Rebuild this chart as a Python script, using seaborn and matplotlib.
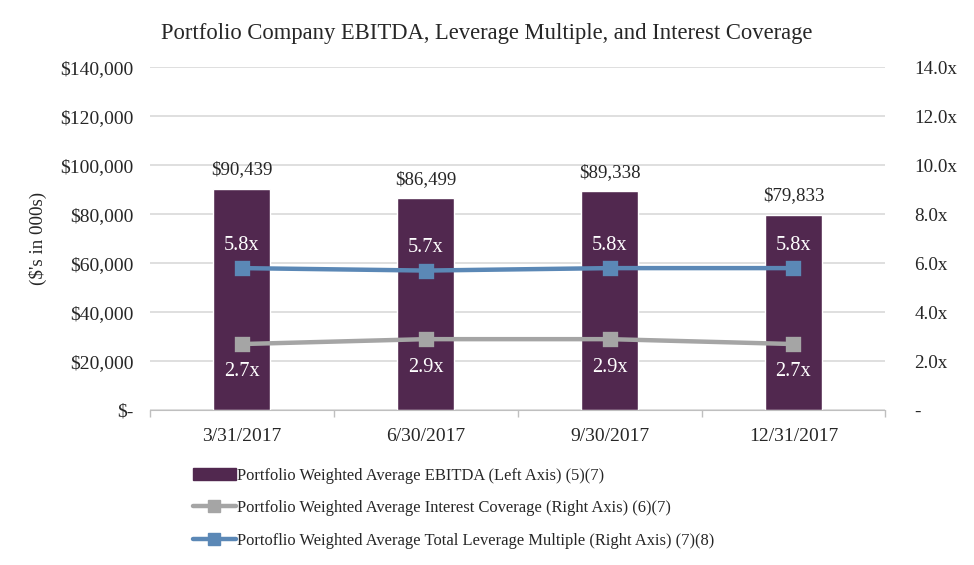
import pandas as pd
import matplotlib
matplotlib.use("Agg")
import matplotlib.pyplot as plt
import seaborn as sns
from matplotlib.lines import Line2D
from matplotlib.patches import Patch

quarters = ["3/31/2017", "6/30/2017", "9/30/2017", "12/31/2017"]
ebitda = [90439, 86499, 89338, 79833]
interest_cov = [2.7, 2.9, 2.9, 2.7]
leverage = [5.8, 5.7, 5.8, 5.8]

left_ticks = [0, 20000, 40000, 60000, 80000, 100000, 120000, 140000]
left_labels = ["$-", "$20,000", "$40,000", "$60,000", "$80,000", "$100,000", "$120,000", "$140,000"]
right_ticks = [0, 2, 4, 6, 8, 10, 12, 14]
right_labels = ["-", "2.0x", "4.0x", "6.0x", "8.0x", "10.0x", "12.0x", "14.0x"]

bar_color = "#51284F"
gray = "#A5A5A5"
blue = "#5B88B6"

sns.set_style("white")
plt.rcParams["font.family"] = ["Liberation Serif", "DejaVu Serif"]

df = pd.DataFrame({"quarter": quarters, "ebitda": ebitda,
                   "cov": interest_cov, "lev": leverage})

fig = plt.figure(figsize=(9.74, 5.65), dpi=100)
ax = fig.add_axes([0.154, 0.274, 0.755, 0.607])

sns.barplot(data=df, x="quarter", y="ebitda", color=bar_color, width=0.31,
            saturation=1, ax=ax, zorder=2)
ax.set_ylim(0, 140000)
ax.set_yticks(left_ticks)
ax.set_yticklabels(left_labels, fontsize=14)
ax.yaxis.grid(True, color="#D9D9D9", linewidth=1.2, zorder=0)
ax.set_axisbelow(True)
ax.set_xlabel("")
ax.set_ylabel("($'s in 000s)", fontsize=13.7)
ax.yaxis.set_label_coords(-0.140, 0.5)
ax.tick_params(axis="x", labelsize=14, pad=13, length=0)
ax.tick_params(axis="y", length=0, pad=12)
# small category-boundary ticks on the bottom axis
ax.set_xticks([-0.5, 0.5, 1.5, 2.5, 3.5], minor=True)
ax.tick_params(axis="x", which="minor", bottom=True, length=5, width=1, color="#BFBFBF")
for s in ["top", "right", "left"]:
    ax.spines[s].set_visible(False)
ax.spines["bottom"].set_color("#BFBFBF")
ax.set_xlim(-0.5, 3.5)

for i, v in enumerate(ebitda):
    ax.text(i, v + 4300, f"${v:,}", ha="center", va="bottom", fontsize=13.6)

ax2 = ax.twinx()
sns.pointplot(data=df, x="quarter", y="cov", color=gray, markers="s",
              markersize=8.5, linewidth=3.2, ax=ax2, errorbar=None)
sns.pointplot(data=df, x="quarter", y="lev", color=blue, markers="s",
              markersize=8.5, linewidth=3.2, ax=ax2, errorbar=None)
ax2.set_ylim(0, 14)
ax2.set_yticks(right_ticks)
ax2.set_yticklabels(right_labels, fontsize=13.8)
ax2.set_ylabel("")
ax2.set_xlabel("")
ax2.tick_params(axis="y", length=0, pad=21)
ax2.tick_params(axis="x", length=0)
for s in ["top", "right", "left", "bottom"]:
    ax2.spines[s].set_visible(False)
ax2.set_xlim(-0.5, 3.5)

for i, v in enumerate(leverage):
    ax2.text(i, v + 0.55, f"{v:.1f}x", ha="center", va="bottom", color="white", fontsize=14.7)
for i, v in enumerate(interest_cov):
    ax2.text(i, v - 0.75, f"{v:.1f}x", ha="center", va="top", color="white", fontsize=14.7)

fig.suptitle("Portfolio Company EBITDA, Leverage Multiple, and Interest Coverage",
             y=0.96, fontsize=16.3)

handles = [
    Patch(facecolor=bar_color, edgecolor=bar_color),
    Line2D([0], [0], color=gray, lw=3.2, marker="s", markersize=8.5),
    Line2D([0], [0], color=blue, lw=3.2, marker="s", markersize=8.5),
]
labels = [
    "Portfolio Weighted Average EBITDA (Left Axis) (5)(7)",
    "Portfolio Weighted Average Interest Coverage (Right Axis) (6)(7)",
    "Portoflio Weighted Average Total Leverage Multiple (Right Axis) (7)(8)",
]
fig.legend(handles, labels, loc="upper left", bbox_to_anchor=(0.191, 0.184),
           frameon=False, fontsize=11.9, handlelength=2.6, handletextpad=0.1,
           labelspacing=1.0, borderaxespad=0)

fig.savefig("out.png", dpi=100)
